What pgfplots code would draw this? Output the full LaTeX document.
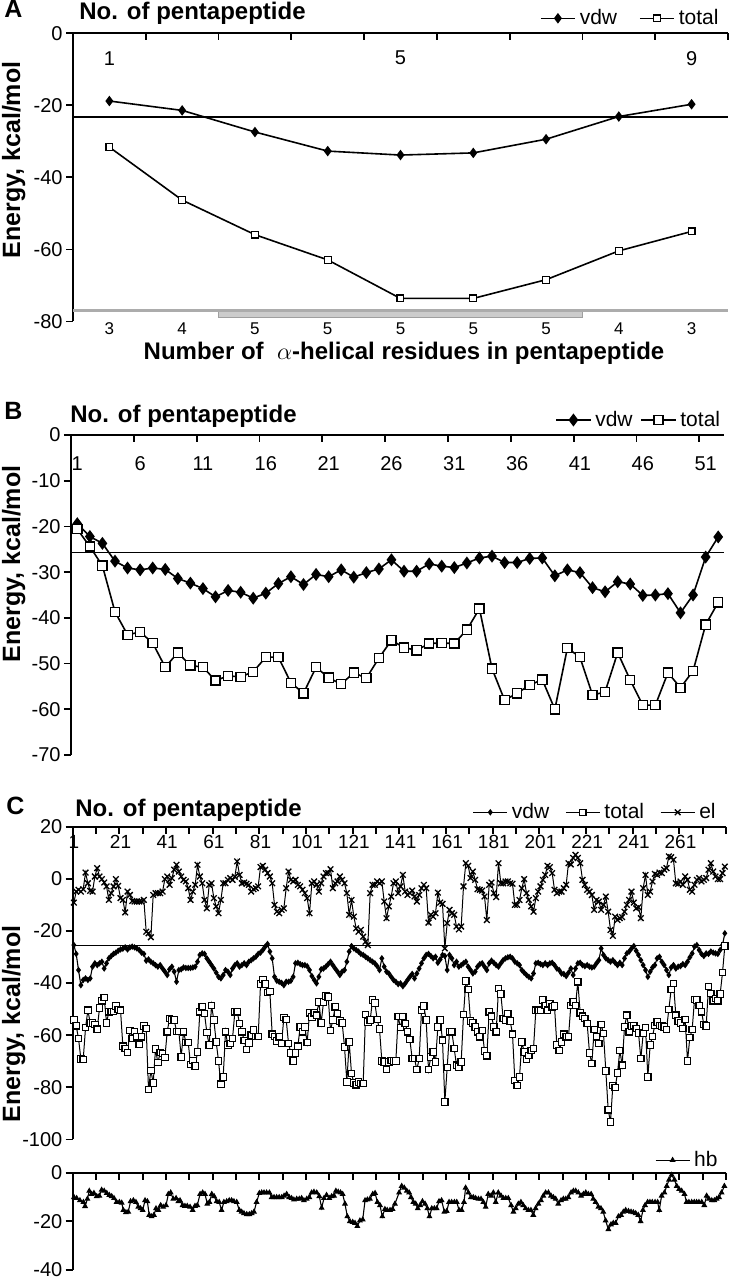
\documentclass[border=0pt]{standalone}
\usepackage{pgfplots}
\usepackage{pgfplotstable}
\pgfplotsset{compat=1.18}
\usepackage{fontspec}
\setmainfont{Liberation Sans}
\newcommand{\fTick}{\fontsize{10}{12}\selectfont}
\newcommand{\fSmall}{\fontsize{8.5}{10}\selectfont}
\newcommand{\fXs}{\fontsize{9.5}{11}\selectfont}
\newcommand{\fLeg}{\fontsize{10.5}{12}\selectfont}
\newcommand{\fBold}{\fontsize{12}{14}\selectfont\bfseries}
\newcommand{\fYl}{\fontsize{12.5}{14}\selectfont\bfseries}
\newcommand{\fPanel}{\fontsize{12.5}{14}\selectfont\bfseries}

% Panel B
\pgfplotstableread[header=false,row sep=\\]{
-19.4\\-22.2\\-23.7\\-27.6\\-29.1\\-29.5\\-29.1\\-29.4\\-31.4\\-32.4\\
-33.6\\-35.4\\-34.0\\-34.4\\-35.7\\-34.6\\-32.5\\-31.0\\-32.7\\-30.5\\
-31.0\\-29.5\\-31.1\\-30.1\\-29.3\\-27.3\\-29.8\\-29.8\\-28.2\\-28.7\\
-29.0\\-28.0\\-26.9\\-26.5\\-27.9\\-27.9\\-27.0\\-26.9\\-30.8\\-29.5\\
-30.1\\-33.4\\-34.3\\-32.1\\-32.6\\-35.1\\-35.0\\-34.7\\-38.9\\-35.0\\
-26.7\\-22.3\\}\Bvdw
\pgfplotstableread[header=false,row sep=\\]{
-20.6\\-24.4\\-28.6\\-38.7\\-43.7\\-43.1\\-45.5\\-50.8\\-47.6\\-50.4\\
-50.8\\-53.7\\-52.7\\-52.9\\-51.8\\-48.6\\-48.6\\-54.2\\-56.5\\-50.8\\
-53.1\\-54.5\\-52.0\\-53.2\\-48.8\\-44.9\\-46.5\\-47.1\\-45.6\\-45.5\\
-45.6\\-42.6\\-38.0\\-51.1\\-58.0\\-56.5\\-54.7\\-53.5\\-60.0\\-46.6\\
-48.6\\-56.9\\-56.2\\-47.6\\-53.6\\-59.1\\-59.1\\-52.0\\-55.3\\-51.6\\
-41.5\\-36.6\\}\Btot

% Panel C
\pgfplotstableread[header=false,row sep=\\]{
-25.4\\-28.8\\-35.0\\-40.8\\-38.8\\-38.2\\-38.8\\-38.2\\-33.7\\-32.4\\
-33.1\\-32.4\\-31.8\\-34.4\\-32.4\\-30.5\\-29.6\\-28.8\\-28.3\\-27.6\\
-27.1\\-26.8\\-26.3\\-27.1\\-26.3\\-26.0\\-26.3\\-26.7\\-27.3\\-28.3\\
-28.8\\-31.4\\-30.9\\-31.8\\-32.4\\-33.1\\-33.7\\-33.1\\-34.4\\-35.6\\
-36.9\\-34.7\\-33.7\\-35.6\\-39.5\\-35.0\\-34.7\\-34.0\\-34.2\\-34.2\\
-34.2\\-34.0\\-33.7\\-31.8\\-29.2\\-28.6\\-28.8\\-30.5\\-31.8\\-33.1\\
-34.4\\-36.0\\-37.6\\-38.2\\-36.9\\-35.0\\-35.6\\-36.9\\-34.4\\-33.1\\
-32.4\\-33.7\\-33.1\\-32.4\\-33.1\\-31.8\\-31.2\\-30.5\\-29.9\\-28.8\\
-28.3\\-27.3\\-26.0\\-25.0\\-27.9\\-30.5\\-37.6\\-39.1\\-39.5\\-39.9\\
-40.8\\-39.5\\-39.5\\-39.1\\-37.6\\-32.4\\-32.2\\-32.7\\-33.1\\-33.1\\
-33.5\\-35.0\\-37.3\\-38.8\\-40.1\\-37.6\\-34.7\\-34.4\\-33.7\\-32.7\\
-31.8\\-33.1\\-34.4\\-35.6\\-36.9\\-35.6\\-35.0\\-31.8\\-27.9\\-25.8\\
-26.7\\-27.3\\-27.9\\-28.8\\-29.2\\-29.9\\-30.5\\-31.2\\-31.8\\-32.4\\
-33.5\\-35.0\\-30.5\\-33.7\\-35.6\\-36.3\\-37.6\\-38.8\\-39.5\\-40.4\\
-40.1\\-41.2\\-40.1\\-38.8\\-37.6\\-36.5\\-38.2\\-36.3\\-34.4\\-32.4\\
-30.5\\-29.2\\-28.8\\-29.6\\-30.5\\-29.9\\-32.2\\-30.9\\-29.2\\-29.6\\
-35.0\\-29.2\\-30.5\\-33.1\\-31.8\\-33.7\\-33.1\\-32.4\\-31.8\\-33.7\\
-35.0\\-36.3\\-35.6\\-33.7\\-32.7\\-32.4\\-33.7\\-35.0\\-32.4\\-31.4\\
-32.2\\-33.1\\-33.7\\-32.4\\-31.2\\-30.5\\-30.1\\-29.9\\-30.5\\-31.8\\
-32.4\\-33.1\\-35.0\\-36.0\\-36.9\\-37.6\\-38.2\\-36.3\\-32.4\\-32.2\\
-32.7\\-33.1\\-32.4\\-33.1\\-32.4\\-32.2\\-33.1\\-34.4\\-35.0\\-36.3\\
-36.5\\-37.3\\-36.0\\-34.4\\-36.9\\-34.4\\-32.4\\-32.2\\-33.1\\-33.5\\
-33.1\\-33.7\\-34.0\\-33.7\\-32.4\\-31.2\\-26.7\\-29.2\\-30.5\\-31.2\\
-31.8\\-31.2\\-32.2\\-33.1\\-32.2\\-33.1\\-30.5\\-28.6\\-27.9\\-26.7\\
-25.8\\-27.6\\-29.2\\-31.2\\-33.1\\-35.0\\-37.6\\-35.6\\-34.0\\-33.1\\
-30.5\\-29.9\\-31.8\\-33.1\\-35.0\\-36.9\\-34.0\\-33.1\\-34.4\\-33.7\\
-33.5\\-32.7\\-33.1\\-31.8\\-30.1\\-28.6\\-26.0\\-25.4\\-27.3\\-28.8\\
-29.6\\-28.6\\-28.8\\-27.9\\-28.3\\-28.6\\-28.8\\-27.3\\-25.4\\-20.9\\
}\Cvdw
\pgfplotstableread[header=false,row sep=\\]{
-54.2\\-56.4\\-61.3\\-69.1\\-69.4\\-57.1\\-50.4\\-55.3\\-55.3\\-55.8\\
-57.7\\-49.5\\-46.8\\-45.5\\-55.3\\-51.0\\-50.8\\-50.8\\-48.8\\-50.1\\
-50.4\\-64.2\\-65.1\\-66.7\\-58.1\\-61.3\\-58.7\\-60.6\\-63.6\\-60.6\\
-56.5\\-57.4\\-80.9\\-73.5\\-78.3\\-65.3\\-70.5\\-66.7\\-67.1\\-68.6\\
-58.7\\-53.6\\-54.2\\-54.2\\-58.5\\-58.6\\-68.3\\-58.7\\-62.7\\-62.7\\
-71.2\\-69.6\\-71.8\\-66.4\\-51.0\\-49.1\\-51.7\\-59.0\\-63.8\\-48.5\\
-54.2\\-62.6\\-69.9\\-78.8\\-76.0\\-58.7\\-63.8\\-63.2\\-61.3\\-51.0\\
-51.0\\-55.5\\-58.7\\-62.0\\-65.5\\-63.0\\-60.0\\-58.0\\-60.5\\-60.5\\
-40.4\\-38.6\\-40.4\\-43.6\\-43.3\\-59.6\\-60.4\\-62.2\\-60.6\\-63.2\\
-53.2\\-54.0\\-63.2\\-66.8\\-69.9\\-66.8\\-64.2\\-56.8\\-58.7\\-56.8\\
-62.8\\-51.4\\-53.0\\-51.4\\-52.3\\-47.2\\-55.3\\-47.2\\-44.9\\-45.3\\
-58.1\\-54.2\\-49.1\\-51.7\\-54.5\\-55.3\\-64.5\\-77.9\\-62.6\\-74.7\\
-78.3\\-79.0\\-77.9\\-78.6\\-78.6\\-52.1\\-54.9\\-54.2\\-46.5\\-47.6\\
-54.0\\-57.6\\-69.9\\-70.3\\-73.2\\-70.3\\-69.6\\-69.9\\-69.9\\-52.9\\
-57.0\\-52.9\\-55.5\\-58.7\\-61.7\\-69.0\\-69.0\\-73.2\\-69.0\\-50.4\\
-48.8\\-54.2\\-73.2\\-68.3\\-66.4\\-70.3\\-56.8\\-54.2\\-61.9\\-85.6\\
-72.4\\-58.7\\-58.7\\-65.1\\-71.5\\-72.2\\-70.3\\-52.1\\-39.2\\-42.4\\
-54.5\\-55.3\\-56.8\\-58.7\\-60.6\\-58.1\\-66.0\\-67.9\\-51.0\\-52.7\\
-56.8\\-58.7\\-42.1\\-44.2\\-53.6\\-54.2\\-51.7\\-54.5\\-59.6\\-77.3\\
-79.2\\-76.0\\-62.6\\-66.4\\-69.4\\-67.7\\-65.8\\-65.1\\-50.4\\-50.4\\
-50.4\\-46.5\\-48.5\\-50.4\\-47.8\\-49.1\\-48.8\\-63.8\\-65.8\\-62.6\\
-59.6\\-60.6\\-60.6\\-48.5\\-47.2\\-48.5\\-39.5\\-51.4\\-52.7\\-53.6\\
-55.5\\-66.8\\-70.9\\-57.8\\-60.6\\-63.2\\-55.8\\-59.4\\-73.7\\-88.6\\
-93.3\\-79.2\\-80.1\\-74.5\\-65.8\\-71.5\\-56.8\\-52.3\\-58.7\\-56.5\\
-56.2\\-57.4\\-59.1\\-69.0\\-59.4\\-57.1\\-76.0\\-63.8\\-60.4\\-56.2\\
-54.9\\-56.2\\-56.5\\-56.8\\-57.8\\-50.1\\-42.4\\-40.1\\-52.3\\-54.5\\
-55.3\\-57.4\\-54.0\\-69.9\\-60.9\\-57.8\\-46.3\\-46.5\\-48.5\\-51.0\\
-55.8\\-56.5\\-41.4\\-44.0\\-46.8\\-45.9\\-46.8\\-44.2\\-36.0\\-25.8\\
}\Ctot
\pgfplotstableread[header=false,row sep=\\]{
-9.1\\-4.9\\-4.2\\-4.9\\-4.0\\2.4\\-1.7\\-4.6\\-4.9\\0.9\\
4.1\\0.9\\-0.1\\-1.4\\-2.9\\-8.1\\-5.5\\-2.9\\-0.1\\-2.7\\
-7.4\\-8.1\\-12.9\\-4.9\\-6.2\\-8.5\\-8.7\\-8.7\\-8.7\\-8.7\\
-8.1\\-20.3\\-20.9\\-22.4\\-6.2\\-5.5\\-5.5\\-5.5\\-4.9\\-0.1\\
0.9\\-2.3\\0.3\\3.5\\5.4\\2.8\\0.9\\-0.4\\-1.0\\-3.6\\
-8.1\\-4.9\\-2.3\\5.4\\0.9\\-1.7\\-8.1\\-11.3\\-2.3\\-1.7\\
-7.4\\-10.6\\-13.2\\-8.1\\-1.7\\-1.7\\-0.4\\0.3\\-0.4\\0.8\\
6.7\\1.5\\-1.7\\-1.4\\-1.9\\-2.3\\-4.9\\-4.0\\-3.6\\-2.9\\
4.5\\5.0\\3.5\\2.2\\0.9\\-1.7\\-10.0\\-12.6\\-13.2\\-11.9\\
-11.3\\-3.6\\2.8\\-0.4\\-1.0\\-0.4\\-2.3\\-2.9\\-4.2\\-5.5\\
-7.4\\-13.2\\-1.7\\-1.0\\-2.3\\-4.9\\-1.7\\0.9\\2.2\\2.2\\
3.7\\-3.6\\-1.7\\-1.0\\0.9\\-0.4\\-1.7\\-5.5\\-13.8\\-8.1\\
-14.5\\-19.0\\-20.3\\-19.6\\-22.2\\-24.1\\-25.4\\-5.5\\-2.3\\-2.3\\
-1.0\\-1.7\\-1.0\\-8.7\\-15.1\\-10.6\\-6.8\\-1.7\\-1.0\\-5.5\\
-2.9\\1.5\\-4.9\\-6.2\\-5.5\\-4.5\\-6.8\\-8.7\\-6.2\\-3.6\\
-2.3\\-3.6\\-16.8\\-13.8\\-14.5\\-13.2\\-5.3\\-9.1\\-9.6\\-26.7\\
-17.0\\-11.9\\-13.2\\-13.8\\-18.3\\-19.4\\-18.3\\-2.9\\6.0\\5.0\\
0.3\\2.8\\-0.4\\-4.0\\-4.2\\-4.5\\-6.8\\-15.8\\-2.3\\-1.4\\
-5.5\\-7.0\\6.0\\-1.7\\-1.7\\-1.0\\-1.0\\-1.7\\-1.9\\-10.0\\
-10.0\\-8.1\\-3.6\\-0.1\\-5.5\\-8.1\\-10.6\\-12.6\\-7.4\\-4.9\\
-2.9\\-0.4\\1.5\\5.0\\4.5\\2.2\\-4.2\\-5.5\\-4.9\\-4.9\\
-3.6\\-2.3\\6.0\\5.5\\8.0\\9.2\\8.0\\6.0\\-0.4\\-2.3\\
-4.2\\-4.9\\-6.2\\-11.9\\-8.1\\-8.7\\-11.9\\-10.0\\-6.8\\-12.6\\
-19.6\\-21.9\\-14.5\\-15.8\\-15.1\\-14.7\\-12.6\\-10.0\\-8.1\\-4.9\\
-9.1\\-11.3\\-10.9\\-15.1\\-3.6\\1.5\\-6.2\\-4.9\\-1.0\\1.9\\
1.5\\2.4\\2.2\\3.5\\4.1\\8.6\\8.3\\7.3\\-1.7\\-1.9\\
-1.0\\-2.3\\0.9\\-0.4\\-4.2\\-4.9\\-2.3\\-0.4\\0.3\\-1.0\\
-0.4\\0.3\\3.5\\6.0\\2.8\\0.9\\-0.1\\-0.1\\2.2\\4.7\\
}\Cel

\pgfplotsset{
  panel/.style={scale only axis, clip=false,
    axis x line*=top, axis y line*=left,
    axis line style={-, line width=0.9pt, black},
    xtick pos=right, ytick pos=left,
    xtick align=inside, ytick align=outside,
    major tick length=3.5pt,
    every tick/.style={black, line width=0.9pt},
    xticklabels={},
    yticklabel style={font=\fTick, inner xsep=1.5pt},
    legend style={draw=none, fill=none, font=\fLeg, legend columns=-1, inner sep=0pt},
  },
}

\begin{document}
\begin{tikzpicture}
\useasboundingbox (0,0) rectangle (365.5pt,640pt);

% ---------------- Panel A ----------------
\begin{axis}[panel, at={(36.5pt,479.25pt)}, anchor=south west,
  width=327.5pt, height=144.1pt,
  xmin=0.5, xmax=9.5, ymin=-80, ymax=0,
  xtick={0.5,1.5,...,9.5},
  ytick={-80,-60,-40,-20,0}, yticklabels={-80,-60,-40,-20,0},
  legend style={at={(1,1)}, anchor=east, xshift=-2.5pt, yshift=7.5pt,
    /tikz/every even column/.append style={column sep=9pt}},
]
\addplot[forget plot, fill=gray!40, draw=gray!75, line width=0.5pt] coordinates {(2.5,-77.1) (7.5,-77.1) (7.5,-78.9) (2.5,-78.9) (2.5,-77.1)};
\addplot[forget plot, gray!65, line width=1.3pt] coordinates {(0.5,-76.9) (9.5,-76.9)};
\addplot[forget plot, black, line width=0.65pt] coordinates {(0.5,-23.2) (9.5,-23.2)};
\addplot[black, line width=0.8pt, mark=diamond*, mark size=2pt] coordinates {
(1,-18.8) (2,-21.4) (3,-27.4) (4,-32.7) (5,-33.8) (6,-33.2) (7,-29.4) (8,-23.1) (9,-19.7)};
\addlegendentry{vdw}
\addplot[black, line width=0.8pt, mark=square*, mark size=1.7pt, mark options={fill=white, line width=0.6pt}] coordinates {
(1,-31.6) (2,-46.3) (3,-55.9) (4,-62.9) (5,-73.6) (6,-73.6) (7,-68.4) (8,-60.4) (9,-55.0)};
\addlegendentry{total}
\node[font=\fTick] at (axis cs:1,-6.9) {1};
\node[font=\fTick] at (axis cs:5,-6.9) {5};
\node[font=\fTick] at (axis cs:9,-6.9) {9};
\node[font=\fSmall] at (axis cs:1,-82) {3};
\node[font=\fSmall] at (axis cs:2,-82) {4};
\node[font=\fSmall] at (axis cs:3,-82) {5};
\node[font=\fSmall] at (axis cs:4,-82) {5};
\node[font=\fSmall] at (axis cs:5,-82) {5};
\node[font=\fSmall] at (axis cs:6,-82) {5};
\node[font=\fSmall] at (axis cs:7,-82) {5};
\node[font=\fSmall] at (axis cs:8,-82) {4};
\node[font=\fSmall] at (axis cs:9,-82) {3};
\end{axis}

% ---------------- Panel B ----------------
\begin{axis}[panel, at={(35.5pt,262.5pt)}, anchor=south west,
  width=326.75pt, height=160pt,
  xmin=0.5, xmax=52.5, ymin=-70, ymax=0,
  xtick={0.5,5.5,...,50.5},
  ytick={-70,-60,-50,-40,-30,-20,-10,0}, yticklabels={-70,-60,-50,-40,-30,-20,-10,0},
  legend style={at={(1,1)}, anchor=east, xshift=0pt, yshift=7.5pt,
    /tikz/every even column/.append style={column sep=2pt}},
]
\addplot[forget plot, black, line width=0.65pt] coordinates {(0.5,-25.7) (52.5,-25.7)};
\addplot[black, line width=0.8pt, mark=diamond*, mark size=2.6pt] table[x expr=\coordindex+1, y index=0] {\Bvdw};
\addlegendentry{vdw}
\addplot[black, line width=0.8pt, mark=square*, mark size=2.3pt, mark options={fill=white, line width=0.65pt}] table[x expr=\coordindex+1, y index=0] {\Btot};
\addlegendentry{total}
\pgfplotsinvokeforeach{1,6,...,51}{\node[font=\fTick] at (axis cs:#1,-6.2) {#1};}
\end{axis}

% ---------------- Panel C ----------------
\begin{axis}[panel, at={(36.35pt,70.25pt)}, anchor=south west,
  width=326.65pt, height=156.4pt,
  xmin=0.5, xmax=280.5, ymin=-100, ymax=20,
  xtick={0.5,10.5,...,280.5},
  ytick={-100,-80,-60,-40,-20,0,20}, yticklabels={-100,-80,-60,-40,-20,0,20},
  legend style={at={(1,1)}, anchor=east, xshift=-3pt, yshift=7.2pt,
    /tikz/every even column/.append style={column sep=6pt}},
]
\addplot[forget plot, black, line width=0.6pt] coordinates {(0.5,-25.7) (280.5,-25.7)};
\addplot[black, line width=0.55pt, mark=diamond*, mark size=1.2pt] table[x expr=\coordindex+1, y index=0] {\Cvdw};
\addlegendentry{vdw}
\addplot[black, line width=0.5pt, mark=square*, mark size=1.6pt, mark options={fill=white, line width=0.55pt}] table[x expr=\coordindex+1, y index=0] {\Ctot};
\addlegendentry{total}
\addplot[black, line width=0.5pt, mark=x, mark size=2pt, mark options={line width=0.65pt}] table[x expr=\coordindex+1, y index=0] {\Cel};
\addlegendentry{el}
\pgfplotsinvokeforeach{1,21,...,261}{\node[font=\fXs] at (axis cs:#1,14.1) {#1};}
\end{axis}

% ---------------- hb ----------------
\begin{axis}[panel, at={(36.35pt,5pt)}, anchor=south west,
  width=326.65pt, height=48.65pt,
  xmin=0.5, xmax=280.5, ymin=-40, ymax=0,
  xtick={0.5,10.5,...,280.5},
  ytick={-40,-20,0}, yticklabels={-40,-20,0},
  legend style={at={(1,1)}, anchor=east, xshift=-2pt, yshift=6.3pt},
]
\addplot[black, line width=0.55pt, mark=triangle*, mark size=1.2pt] coordinates {
(1.05,-10.1)(2.2,-10.5)(3.6,-11.4)(5.1,-12.1)(5.8,-13.8)(6.8,-10.8)(7.6,-7.5)(8.6,-8.8)(9.6,-8.4)(10.8,-9.7)
(11.9,-9.5)(12.9,-7.1)(14.0,-7.5)(15.1,-8.4)(16.2,-9.2)(17.2,-9.7)(18.2,-10.5)(19.3,-12.1)(20.5,-12.1)(21.5,-12.4)
(22.2,-15.4)(23.3,-16.3)(24.3,-16.1)(25.3,-11.8)(26.5,-11.4)(27.6,-12.1)(28.6,-14.1)(29.6,-14.7)(30.5,-15.4)(31.5,-11.4)
(32.5,-11.8)(33.3,-17.4)(34.3,-18.0)(35.3,-17.4)(36.2,-14.7)(37.2,-15.4)(38.2,-13.4)(39.3,-14.1)(40.5,-13.4)(41.5,-8.8)
(42.5,-8.2)(43.6,-10.8)(44.8,-10.5)(45.8,-11.8)(46.5,-11.4)(47.6,-13.4)(48.6,-13.7)(49.6,-13.7)(50.8,-14.1)(51.9,-15.4)
(52.9,-13.7)(53.9,-13.4)(55.1,-8.8)(56.2,-8.2)(57.2,-8.8)(58.2,-12.8)(59.1,-12.1)(60.1,-8.8)(61.1,-9.7)(62.2,-11.8)
(63.3,-12.1)(64.3,-15.4)(65.3,-12.1)(66.5,-11.8)(67.6,-11.4)(68.6,-11.4)(69.6,-11.8)(70.8,-12.1)(71.9,-15.4)(72.9,-16.1)
(73.9,-16.7)(75.1,-17.1)(76.2,-17.1)(77.2,-16.7)(78.2,-16.1)(79.3,-12.1)(80.5,-8.4)(81.5,-8.2)(82.5,-8.2)(83.6,-8.2)
(84.8,-8.2)(85.8,-10.1)(86.8,-10.1)(87.9,-10.1)(89.0,-10.1)(90.1,-10.1)(91.1,-9.5)(92.2,-8.8)(93.3,-10.1)(94.3,-10.5)
(95.3,-11.1)(96.5,-10.8)(97.6,-10.8)(98.6,-10.5)(99.6,-11.4)(100.8,-10.8)(101.9,-10.1)(102.9,-8.2)(103.9,-7.9)(105.1,-8.2)
(106.2,-9.7)(107.2,-14.5)(108.2,-10.5)(109.3,-9.2)(110.5,-10.5)(111.5,-9.7)(112.5,-9.5)(113.3,-7.5)(114.3,-7.9)(115.3,-8.2)
(116.2,-8.8)(117.2,-12.8)(118.2,-18.0)(119.3,-20.0)(120.5,-20.3)(121.5,-20.7)(122.5,-22.0)(123.6,-19.7)(124.8,-19.3)(125.8,-11.4)
(126.8,-11.1)(127.9,-10.8)(129.1,-8.8)(130.1,-8.4)(131.1,-12.1)(132.2,-13.4)(133.2,-18.0)(134.3,-15.0)(135.3,-15.4)(136.5,-15.4)
(137.6,-15.0)(138.6,-12.8)(140.4,-8.2)(141.5,-5.5)(142.6,-6.2)(143.7,-7.5)(144.7,-8.2)(145.5,-10.1)(146.5,-12.1)(147.5,-12.8)
(148.4,-14.7)(149.4,-13.4)(150.4,-11.8)(151.5,-12.8)(152.5,-14.7)(153.4,-18.0)(154.4,-14.7)(155.5,-14.7)(156.5,-14.7)(157.5,-11.8)
(158.6,-11.4)(159.8,-16.1)(160.8,-15.8)(161.8,-12.1)(162.9,-12.1)(164.1,-12.1)(165.1,-12.1)(166.1,-15.4)(167.2,-15.4)(168.2,-12.1)
(168.9,-6.2)(170.1,-8.2)(171.2,-10.1)(172.2,-10.1)(173.2,-10.5)(174.4,-10.8)(175.5,-10.8)(176.5,-12.1)(177.5,-14.1)(178.6,-8.8)
(179.8,-9.5)(180.8,-8.2)(181.8,-12.1)(182.9,-8.2)(184.1,-9.5)(185.1,-10.5)(186.1,-10.5)(187.2,-10.5)(188.4,-13.4)(189.4,-16.1)
(190.4,-14.7)(191.5,-12.8)(192.6,-12.1)(193.6,-13.4)(194.6,-14.7)(195.8,-15.4)(196.9,-15.4)(197.9,-17.4)(198.9,-14.7)(200.1,-12.8)
(201.2,-11.4)(202.2,-9.5)(203.2,-8.2)(204.4,-8.2)(205.5,-9.5)(206.5,-10.1)(207.5,-10.8)(208.6,-12.8)(209.8,-11.4)(210.8,-10.8)
(211.8,-10.8)(212.9,-10.1)(214.1,-8.2)(215.1,-7.5)(216.1,-7.5)(217.2,-8.2)(218.4,-9.5)(219.4,-8.8)(220.4,-8.2)(221.5,-8.8)
(222.7,-8.8)(223.6,-10.8)(224.6,-12.1)(225.8,-14.1)(226.9,-14.7)(227.9,-16.1)(228.9,-19.7)(230.1,-23.3)(231.2,-21.3)(232.2,-20.7)
(233.2,-20.7)(234.4,-18.0)(235.5,-17.4)(236.5,-16.1)(237.5,-15.4)(238.7,-15.8)(239.8,-16.1)(240.8,-16.3)(241.8,-16.7)(242.9,-17.4)
(243.9,-20.0)(244.9,-15.4)(245.8,-13.4)(246.9,-12.1)(247.9,-12.1)(248.9,-12.1)(250.1,-12.1)(251.2,-12.1)(251.9,-15.4)(252.9,-9.5)
(254.1,-8.2)(255.1,-5.5)(256.1,-2.9)(257.2,-0.9)(258.4,-2.9)(259.4,-5.5)(260.4,-6.8)(261.5,-7.5)(262.7,-8.8)(263.6,-12.1)
(264.6,-12.1)(265.8,-12.1)(266.9,-12.1)(267.9,-12.1)(268.9,-12.1)(270.1,-12.1)(271.2,-13.4)(272.2,-9.5)(273.2,-10.8)(274.4,-11.4)
(275.5,-11.4)(276.5,-10.8)(277.5,-10.1)(278.6,-8.2)(279.8,-5.5)};
\addlegendentry{hb}
\end{axis}

% ---------------- texts ----------------
\node[font=\fPanel, anchor=base west, inner sep=0pt] at (2pt,631pt) {A};
\node[font=\fPanel, anchor=base west, inner sep=0pt] at (2pt,430pt) {B};
\node[font=\fPanel, anchor=base west, inner sep=0pt] at (3pt,232.5pt) {C};
\node[font=\fBold, anchor=base west, inner sep=0pt] at (39.5pt,630pt) {No. of pentapeptide};
\node[font=\fBold, anchor=base west, inner sep=0pt] at (35pt,428.6pt) {No. of pentapeptide};
\node[font=\fBold, anchor=base west, inner sep=0pt] at (37.5pt,231.6pt) {No. of pentapeptide};
\node[font=\fYl, rotate=90, inner sep=0pt] at (6.8pt,560pt) {Energy, kcal/mol};
\node[font=\fYl, rotate=90, inner sep=0pt] at (6.8pt,358pt) {Energy, kcal/mol};
\node[font=\fYl, rotate=90, inner sep=0pt] at (6.8pt,128pt) {Energy, kcal/mol};
\node[font=\fBold, inner sep=0pt] at (202pt,463.5pt) {Number of \ $\alpha$-helical residues in pentapeptide};
\end{tikzpicture}
\end{document}
